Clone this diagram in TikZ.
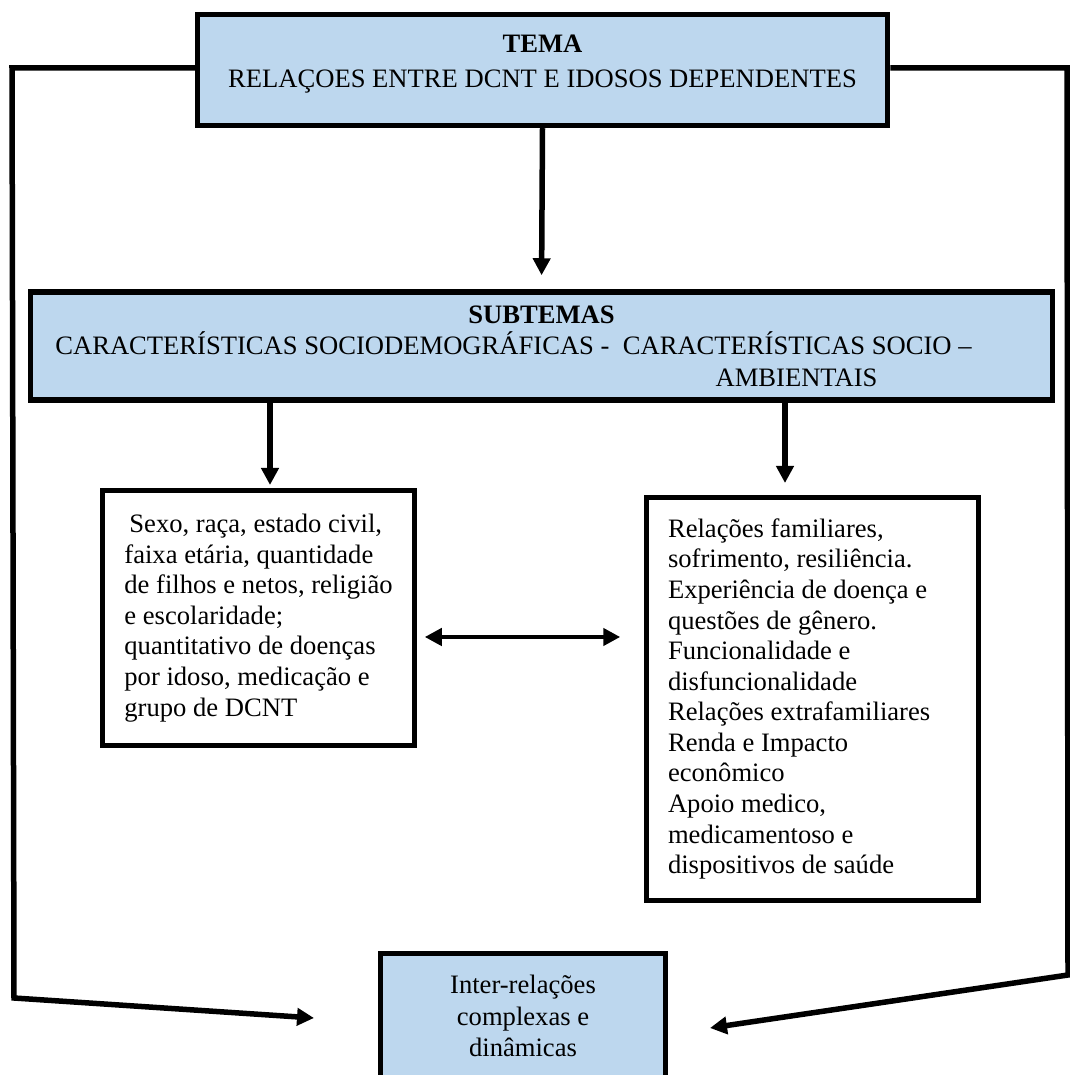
\documentclass[tikz,border=0pt]{standalone}
\usepackage{fontspec}
\setmainfont{Liberation Serif}
\usetikzlibrary{arrows.meta}
\definecolor{temablue}{RGB}{189,215,238}

\begin{document}
\begin{tikzpicture}[>={Triangle[length=17bp,width=17bp]},line join=miter,
    box/.style={draw=black,line width=5.5bp,rectangle,inner sep=0pt,font=\fontsize{26.7}{30.7}\selectfont},
    bluebox/.style={box,fill=temablue},
    link/.style={line width=5.5bp}]
    %%
    \useasboundingbox (0bp,0bp) rectangle (1070bp,1075bp);
    \node (tema) at (542.5bp,1005bp) [bluebox,minimum width=690bp,minimum height=111bp,align=center,font=\fontsize{26.7}{35}\selectfont,text depth=18bp] {\textbf{TEMA}\\RELAÇOES ENTRE DCNT E IDOSOS DEPENDENTES};
    \node (sub) at (541.5bp,729bp) [bluebox,minimum width=1022bp,minimum height=108bp,align=center,font=\fontsize{26.7}{31.5}\selectfont] {\textbf{SUBTEMAS}\\CARACTERÍSTICAS SOCIODEMOGRÁFICAS - ~CARACTERÍSTICAS SOCIO –\rule{56bp}{0pt}\\\rule{510bp}{0pt}AMBIENTAIS};
    \node (dados) at (258.5bp,457bp) [box,fill=white,minimum width=312bp,minimum height=255bp,align=left] {\hspace*{5bp}Sexo, raça, estado civil,\\faixa etária, quantidade\\de filhos e netos, religião\\e escolaridade;\\quantitativo de doenças\\por idoso, medicação e\\grupo de DCNT};
    \node (relacoes) at (812.5bp,376bp) [box,fill=white,minimum width=332bp,minimum height=403bp,inner xsep=21.5bp,text width=289bp,align=flush left] {Relações familiares,\\sofrimento, resiliência.\\Experiência de doença e\\questões de gênero.\\Funcionalidade e\\disfuncionalidade\\Relações extrafamiliares\\Renda e Impacto\\econômico\\Apoio medico,\\medicamentoso e\\dispositivos de saúde};
    \node (inter) at (523bp,59bp) [bluebox,minimum width=285bp,minimum height=125bp,align=center,font=\fontsize{26.7}{32}\selectfont] {Inter-relações\\complexas e\\dinâmicas};
    %
    \coordinate (lt) at (12bp,1007bp);
    \coordinate (lb) at (14bp,77bp);
    \coordinate (ltip) at (314bp,57bp);
    \coordinate (rt) at (1067bp,1007bp);
    \coordinate (rb) at (1068bp,100bp);
    \coordinate (rtip) at (710bp,47bp);
    \coordinate (dadosin) at (270bp,590bp);
    \coordinate (relin) at (785bp,592bp);
    \coordinate (mid) at (540bp,438bp);
    %
    \draw [link,->,shorten >=14bp] (tema.south) -- (sub.north);
    \draw [link,->] (sub.south -| dadosin) -- (dadosin);
    \draw [link,->] (sub.south -| relin) -- (relin);
    \draw [link,line width=4.5bp,<->,shorten <=7.5bp,shorten >=23.5bp] (dados.east |- mid) -- (relacoes.west |- mid);
    \draw [link,->] (tema.west |- lt) -- (lt) -- (lb) -- (ltip);
    \draw [link,->] (tema.east |- rt) -- (rt) -- (rb) -- (rtip);
    %
\end{tikzpicture}
\end{document}
